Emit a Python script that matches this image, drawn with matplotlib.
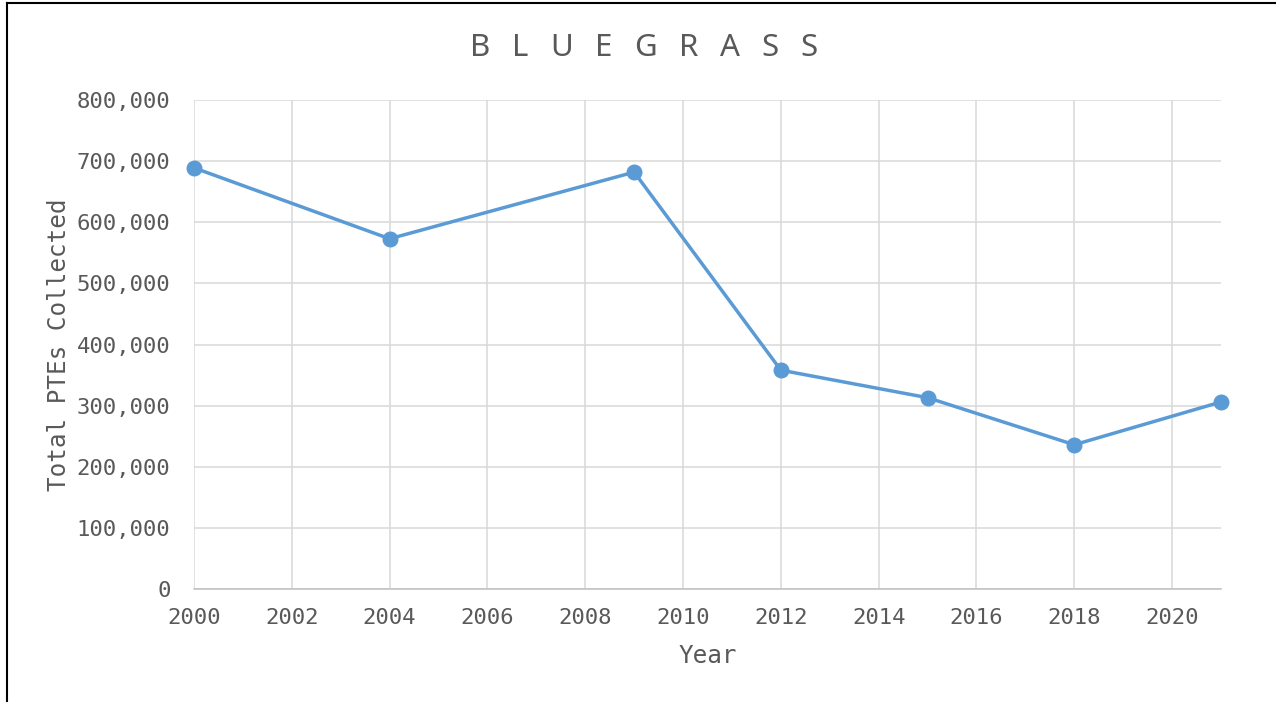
import matplotlib
matplotlib.use("Agg")
import matplotlib.pyplot as plt
from matplotlib.lines import Line2D
from matplotlib.ticker import FuncFormatter

years = [2000, 2004, 2009, 2012, 2015, 2018, 2021]
ptes = [689000, 573000, 682000, 358000, 313000, 236000, 306000]
x_ticks = list(range(2000, 2021, 2))
y_ticks = list(range(0, 800001, 100000))
title = "BLUEGRASS"
xlabel = "Year"
ylabel = "Total PTEs Collected"

plt.rcParams['font.family'] = ['DejaVu Sans Mono']
txt = '#595959'

W, H = 1276, 702
fig = plt.figure(figsize=(W/100, H/100), dpi=100)
ax = fig.add_axes([194/W, 1-589/H, (1221-194)/W, (589-100)/H])

ax.plot(years, ptes, color='#5B9BD5', lw=2.5, marker='o', ms=10.5, zorder=3, clip_on=False)
ax.set_xlim(2000, 2021)
ax.set_ylim(0, 800000)
ax.set_xticks(x_ticks)
ax.set_yticks(y_ticks)
ax.yaxis.set_major_formatter(FuncFormatter(lambda v, p: f"{int(v):,}"))
ax.grid(True, color='#D9D9D9', lw=1.1)
ax.set_axisbelow(True)
for s in ['top', 'right', 'left']:
    ax.spines[s].set_visible(False)
ax.spines['bottom'].set_color('#BFBFBF')
ax.spines['bottom'].set_linewidth(1.1)
ax.tick_params(length=0, labelsize=16, colors=txt)
ax.tick_params(axis='y', pad=17)
ax.tick_params(axis='x', pad=14)
ax.set_xlabel(xlabel, fontsize=17.5, color=txt, labelpad=11)
ax.set_ylabel(ylabel, fontsize=17.5, color=txt, labelpad=4.5)

# spaced title, letter by letter
fig.canvas.draw()
renderer = fig.canvas.get_renderer()
x = 470.0
gap = 21.8
for ch in title:
    t = fig.text(x/W, 1-48/H, ch, ha='left', va='center', fontsize=22.5,
                 color=txt, family=['Noto Sans'])
    bb = t.get_window_extent(renderer)
    x += bb.width + gap

fig.add_artist(Line2D([7/W, 7/W], [0, 1-3/H], color='black', lw=1.5, transform=fig.transFigure))
fig.add_artist(Line2D([7/W, 1], [1-3/H, 1-3/H], color='black', lw=1.5, transform=fig.transFigure))

fig.savefig('out.png', dpi=100)
